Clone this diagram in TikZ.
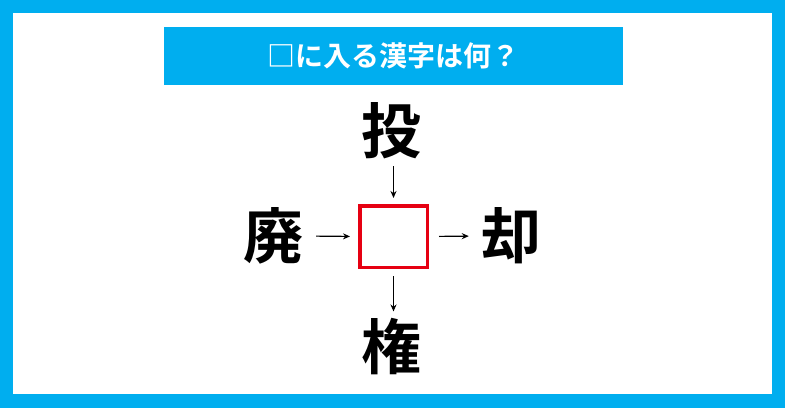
\documentclass[tikz,border=0pt]{standalone}
\usepackage{fontspec}
\newfontfamily\jpfont{Noto Sans CJK JP Bold}
\usetikzlibrary{arrows.meta}
\definecolor{quizblue}{RGB}{0,174,239}
\definecolor{quizred}{RGB}{230,0,18}
\begin{document}
\begin{tikzpicture}[x=1pt,y=1pt,
    kanji/.style={font=\jpfont\fontsize{60}{60}\selectfont, inner sep=0pt},
    blank/.style={draw=quizred, line width=3.5pt, minimum width=67.5pt, minimum height=61.5pt, inner sep=0pt},
    link/.style={-{Stealth[length=7pt,width=6pt]}, line width=1.2pt}]
  \useasboundingbox (0,0) rectangle (785,408);
  \fill[quizblue] (0,0) rectangle (785,408);
  \fill[white] (12.7,14) rectangle (772,395.3);
  \node[fill=quizblue, minimum width=459pt, minimum height=58pt, inner sep=0pt,
        text=white, font=\jpfont\fontsize{28}{28}\selectfont] (title) at (393.5,352) {□に入る漢字は何？};
  \node[blank] (box) at (393.5,171.5) {};
  \node[kanji] (top) at (391,277) {投};
  \node[kanji] (left) at (273,172) {廃};
  \node[kanji] (right) at (511,172) {却};
  \node[kanji] (bottom) at (391,61) {権};
  % arrows into and out of the blank
  \draw[link, shorten <=7pt, shorten >=6pt] (top.south -| box.north) -- (box.north);
  \draw[link, shorten <=13pt, shorten >=8pt] (left.east) -- (box.west);
  \draw[link, shorten <=10pt, shorten >=12pt] (box.east) -- (right.west);
  \draw[link, shorten <=7pt, shorten >=7pt] (box.south) -- (bottom.north -| box.south);
\end{tikzpicture}
\end{document}
